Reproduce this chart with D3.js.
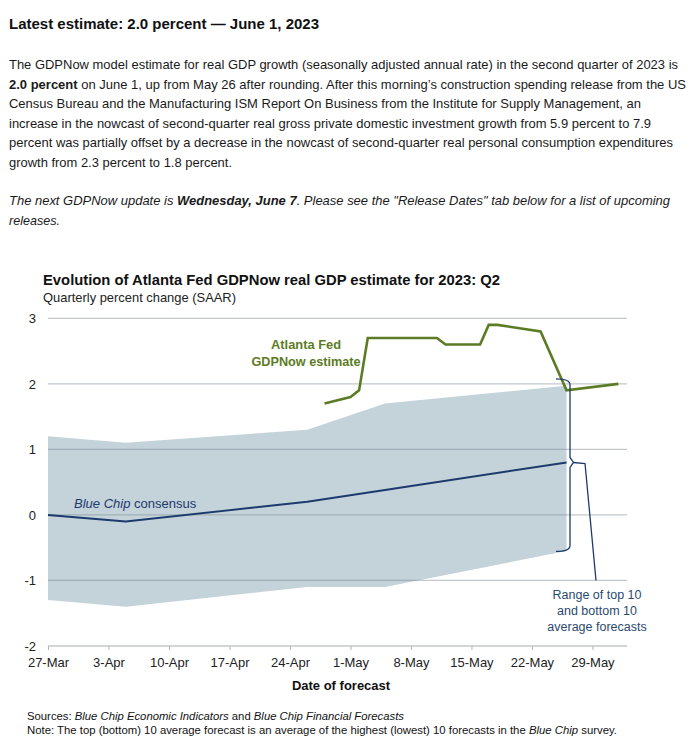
<!DOCTYPE html>
<html>
<head>
<meta charset="utf-8">
<script src="https://cdn.jsdelivr.net/npm/d3@7/dist/d3.min.js"></script>
<style>
  html, body { margin: 0; padding: 0; background: #fff; }
  svg { display: block; font-family: "Liberation Sans", Arial, sans-serif; }
</style>
</head>
<body>
<svg id="chart" width="694" height="749"></svg>
<script>
// ---------------- DATA ----------------
const blueChipDates   = ["2023-03-27", "2023-04-05", "2023-04-26", "2023-05-05", "2023-05-26"];
const consensus       = [0.0, -0.1, 0.2, 0.38, 0.8];
const top10Avg        = [1.2, 1.1, 1.3, 1.7, 1.97];
const bottom10Avg     = [-1.3, -1.4, -1.1, -1.1, -0.55];

const gdpNowDates     = ["2023-04-28", "2023-05-01", "2023-05-02", "2023-05-03", "2023-05-11", "2023-05-12",
                         "2023-05-16", "2023-05-17", "2023-05-18", "2023-05-23", "2023-05-26", "2023-06-01"];
const gdpNowValues    = [1.7, 1.8, 1.9, 2.7, 2.7, 2.6, 2.6, 2.9, 2.9, 2.8, 1.9, 2.0];

const xTickDates      = ["2023-03-27", "2023-04-03", "2023-04-10", "2023-04-17", "2023-04-24",
                         "2023-05-01", "2023-05-08", "2023-05-15", "2023-05-22", "2023-05-29"];
const xTickLabels     = ["27-Mar", "3-Apr", "10-Apr", "17-Apr", "24-Apr", "1-May", "8-May", "15-May", "22-May", "29-May"];
const yTicks          = [-2, -1, 0, 1, 2, 3];
const yTickLabels     = ["-2", "-1", "0", "1", "2", "3"];
const xDomain         = ["2023-03-27", "2023-06-02"];

// ---------------- SETUP ----------------
const parse = d3.utcParse("%Y-%m-%d");
const svg = d3.select("#chart");
svg.append("rect").attr("width", 694).attr("height", 749).attr("fill", "#fff");

const x = d3.scaleUtc().domain(xDomain.map(parse)).range([48, 627]);
const y = d3.scaleLinear().domain([-2, 3]).range([646, 318.3]);

// ---------------- HEADER TEXT ----------------
const head = svg.append("g").attr("fill", "#111");
head.append("text").attr("x", 9).attr("y", 29)
  .attr("font-size", 15).attr("font-weight", "bold")
  .attr("textLength", 310).attr("lengthAdjust", "spacingAndGlyphs")
  .text("Latest estimate: 2.0 percent \u2014 June 1, 2023");

const paraLines = [
  {y: 69,   w: 669, parts: [["The GDPNow model estimate for real GDP growth (seasonally adjusted annual rate) in the second quarter of 2023 is", ""]]},
  {y: 88.5, w: 677, parts: [["2.0 percent", "b"], [" on June 1, up from May 26 after rounding. After this morning\u2019s construction spending release from the US", ""]]},
  {y: 108,  w: 632, parts: [["Census Bureau and the Manufacturing ISM Report On Business from the Institute for Supply Management, an", ""]]},
  {y: 127.5,w: 642, parts: [["increase in the nowcast of second-quarter real gross private domestic investment growth from 5.9 percent to 7.9", ""]]},
  {y: 147,  w: 664, parts: [["percent was partially offset by a decrease in the nowcast of second-quarter real personal consumption expenditures", ""]]},
  {y: 166.5,w: 223, parts: [["growth from 2.3 percent to 1.8 percent.", ""]]},
  {y: 205,  w: 661, parts: [["The next GDPNow update is ", "i"], ["Wednesday, June 7", "bi"], [". Please see the \"Release Dates\" tab below for a list of upcoming", "i"]]},
  {y: 224.5,w: 51,  parts: [["releases.", "i"]]}
];
paraLines.forEach(l => {
  const t = head.append("text").attr("x", 9).attr("y", l.y).attr("font-size", 13)
    .attr("textLength", l.w).attr("lengthAdjust", "spacingAndGlyphs").attr("fill", "#1a1a1a");
  l.parts.forEach(([s, st]) => {
    t.append("tspan").text(s)
      .attr("font-weight", st.includes("b") ? "bold" : null)
      .attr("font-style", st.includes("i") ? "italic" : null);
  });
});

// ---------------- CHART TITLE ----------------
svg.append("text").attr("x", 43).attr("y", 285)
  .attr("font-size", 15).attr("font-weight", "bold").attr("fill", "#111")
  .attr("textLength", 457).attr("lengthAdjust", "spacingAndGlyphs")
  .text("Evolution of Atlanta Fed GDPNow real GDP estimate for 2023: Q2");
svg.append("text").attr("x", 43).attr("y", 302)
  .attr("font-size", 13).attr("fill", "#222")
  .attr("textLength", 193).attr("lengthAdjust", "spacingAndGlyphs")
  .text("Quarterly percent change (SAAR)");

// ---------------- BAND ----------------
const bc = blueChipDates.map((d, i) => ({date: parse(d), c: consensus[i], hi: top10Avg[i], lo: bottom10Avg[i]}));
svg.append("path").datum(bc)
  .attr("fill", "#c4d2da")
  .attr("d", d3.area().x(d => x(d.date)).y0(d => y(d.lo)).y1(d => y(d.hi)));

// ---------------- GRID ----------------
const grid = svg.append("g");
grid.selectAll("line.g").data(yTicks).join("line")
  .attr("x1", x.range()[0]).attr("x2", x.range()[1])
  .attr("y1", d => y(d)).attr("y2", d => y(d))
  .attr("stroke", "#78868e").attr("stroke-opacity", 0.45).attr("stroke-width", 1.3);

// x axis with ticks on -2 line
const xAxis = d3.axisBottom(x)
  .tickValues(xTickDates.map(parse))
  .tickSize(4)
  .tickFormat((d, i) => xTickLabels[i]);
const gx = svg.append("g").attr("transform", `translate(0,${y(-2)})`).call(xAxis);
gx.select(".domain").remove();
gx.selectAll(".tick line").attr("stroke", "#b5b5b5").attr("stroke-width", 1);
gx.selectAll(".tick text").attr("font-size", 13).attr("fill", "#222")
  .attr("font-family", "Liberation Sans, Arial, sans-serif").attr("dy", "0.35em").attr("y", 16);

// y axis labels
const yAxis = d3.axisLeft(y).tickValues(yTicks).tickSize(0).tickFormat((d, i) => yTickLabels[i]);
const gy = svg.append("g").attr("transform", "translate(36,0)").call(yAxis);
gy.select(".domain").remove();
gy.selectAll(".tick text").attr("font-size", 13).attr("fill", "#222")
  .attr("font-family", "Liberation Sans, Arial, sans-serif").attr("x", 0);

// ---------------- LINES ----------------
svg.append("path").datum(bc)
  .attr("fill", "none").attr("stroke", "#1d3a6c").attr("stroke-width", 2)
  .attr("stroke-linejoin", "round")
  .attr("d", d3.line().x(d => x(d.date)).y(d => y(d.c)));

const gn = gdpNowDates.map((d, i) => ({date: parse(d), v: gdpNowValues[i]}));
svg.append("path").datum(gn)
  .attr("fill", "none").attr("stroke", "#5b7c25").attr("stroke-width", 2.6)
  .attr("stroke-linejoin", "miter")
  .attr("d", d3.line().x(d => x(d.date)).y(d => y(d.v)));

// ---------------- BRACE ANNOTATION ----------------
const last = bc[bc.length - 1];
const bx = x(last.date) + 3.5;
const yt = y(last.hi) - 7, yb = y(last.lo) + 0.5, ym = y(last.c);
svg.append("path")
  .attr("fill", "none").attr("stroke", "#1d3a6c").attr("stroke-width", 1.3)
  .attr("d", `M${bx - 14},${yt} Q${bx},${yt} ${bx},${yt + 6} L${bx},${ym - 5} L${bx + 3.5},${ym} L${bx},${ym + 5} L${bx},${yb - 6} Q${bx},${yb} ${bx - 14},${yb}`);
svg.append("path")
  .attr("fill", "none").attr("stroke", "#1d3a6c").attr("stroke-width", 1.3)
  .attr("d", `M${bx + 3.5},${ym} L${bx + 15},${ym + 1} L${bx + 26},${y(-1)}`);

const rangeLbl = svg.append("text").attr("text-anchor", "middle").attr("font-size", 12.5).attr("fill", "#2b4a6e");
["Range of top 10", "and bottom 10", "average forecasts"].forEach((s, i) => {
  rangeLbl.append("tspan").attr("x", 597).attr("y", 599 + i * 15.8).text(s);
});

// ---------------- SERIES LABELS ----------------
const gl = svg.append("g").attr("fill", "#5b7c25").attr("font-size", 13).attr("font-weight", "bold").attr("text-anchor", "middle");
gl.append("text").attr("x", 306).attr("y", 349).attr("textLength", 70).attr("lengthAdjust", "spacingAndGlyphs").text("Atlanta Fed");
gl.append("text").attr("x", 306).attr("y", 366).attr("textLength", 109).attr("lengthAdjust", "spacingAndGlyphs").text("GDPNow estimate");

const bcl = svg.append("text").attr("x", 74).attr("y", 508).attr("font-size", 13).attr("fill", "#1d3a6c");
bcl.append("tspan").attr("font-style", "italic").text("Blue Chip");
bcl.append("tspan").text(" consensus");

// ---------------- AXIS TITLE & NOTES ----------------
svg.append("text").attr("x", 341).attr("y", 690).attr("text-anchor", "middle")
  .attr("font-size", 13).attr("font-weight", "bold").attr("fill", "#111").text("Date of forecast");

const src = svg.append("text").attr("x", 27).attr("y", 720).attr("font-size", 10.5).attr("fill", "#111")
  .attr("textLength", 377).attr("lengthAdjust", "spacingAndGlyphs");
[["Sources: ", ""], ["Blue Chip Economic Indicators", "i"], [" and ", ""], ["Blue Chip Financial Forecasts", "i"]]
  .forEach(([s, st]) => src.append("tspan").attr("font-style", st ? "italic" : null).text(s));

const note = svg.append("text").attr("x", 27).attr("y", 734).attr("font-size", 10.5).attr("fill", "#111")
  .attr("textLength", 590).attr("lengthAdjust", "spacingAndGlyphs");
[["Note", ""], [": The top (bottom) 10 average forecast is an average of the highest (lowest) 10 forecasts in the ", ""], ["Blue Chip", "i"], [" survey.", ""]]
  .forEach(([s, st]) => note.append("tspan").attr("font-style", st === "i" ? "italic" : null).text(s));
</script>
</body>
</html>
